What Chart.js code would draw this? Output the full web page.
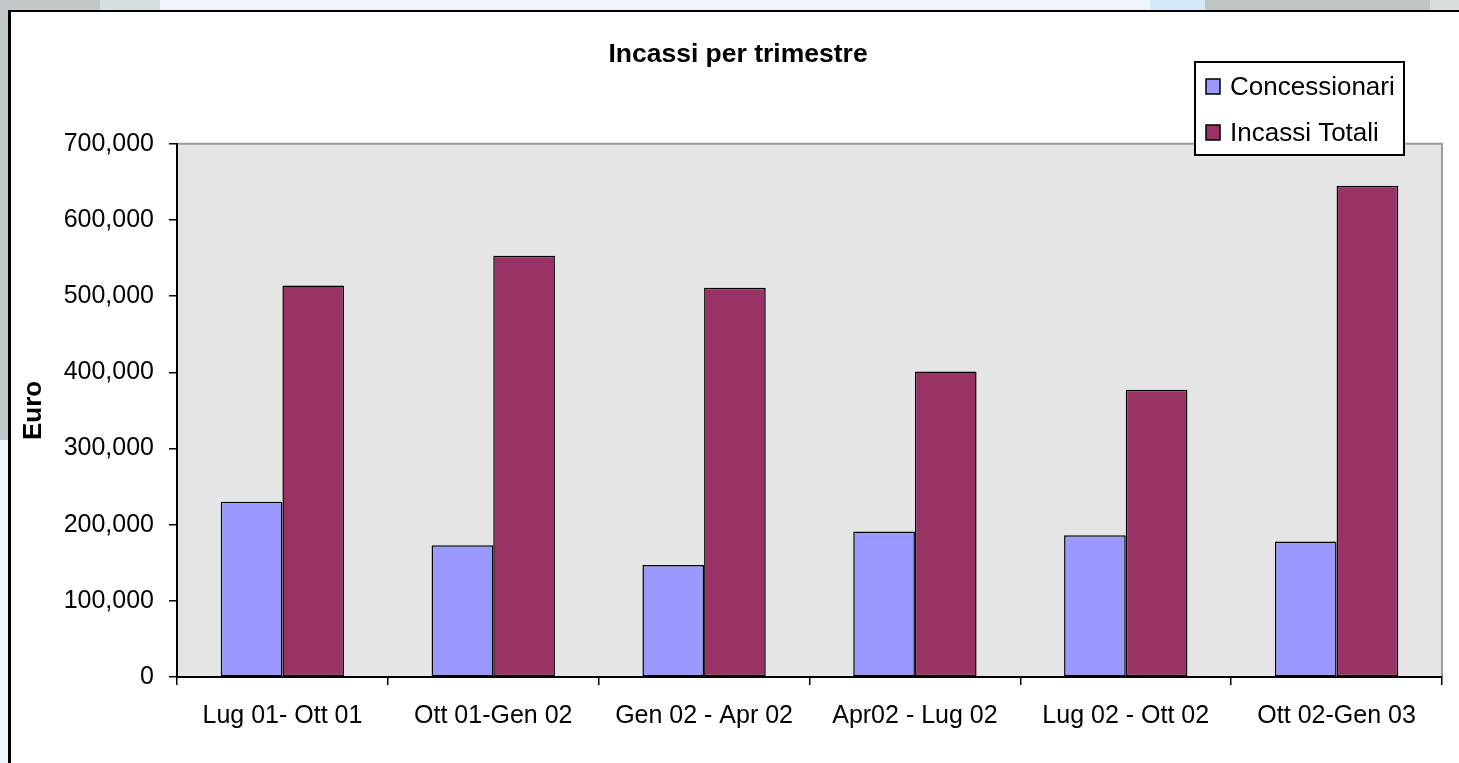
<!DOCTYPE html>
<html>
<head>
<meta charset="utf-8">
<script src="https://cdn.jsdelivr.net/npm/chart.js@4"></script>
<style>
  body { margin: 0; width: 1459px; height: 763px; overflow: hidden; position: relative; background: #eef4f9; }
  .bg1 { position: absolute; left: 0; top: 0; width: 105px; height: 440px; background: #c2c8c8; }
  .bg2 { position: absolute; left: 100px; top: 0; width: 60px; height: 10px; background: #d6dfdf; }
  .bg3 { position: absolute; left: 1150px; top: 0; width: 55px; height: 10px; background: #d4eaf8; }
  .bg4 { position: absolute; left: 1205px; top: 0; width: 225px; height: 10px; background: #c0c5c5; }
  .bg5 { position: absolute; left: 1430px; top: 0; width: 29px; height: 10px; background: #d8dede; }
  .frame { position: absolute; left: 8px; top: 10px; width: 1460px; height: 760px; background: #fff;
           border-left: 3px solid #000; border-top: 2px solid #000; }
  #chart { position: absolute; left: 0; top: 0; }
</style>
</head>
<body>
<div class="bg1"></div><div class="bg2"></div><div class="bg3"></div><div class="bg4"></div><div class="bg5"></div>
<div class="frame"></div>
<canvas id="chart" width="1459" height="763"></canvas>
<script>
// Data
const trimestri = ["Lug 01- Ott 01", "Ott 01-Gen 02", "Gen 02 - Apr 02", "Apr02 - Lug 02", "Lug 02 - Ott 02", "Ott 02-Gen 03"];
const concessionari = [230000, 173000, 147000, 191000, 186000, 178000];
const incassiTotali = [514000, 553000, 511000, 401000, 377000, 645000];
const seriesNames = ["Concessionari", "Incassi Totali"];
const yMax = 700000;
const yStep = 100000;

Chart.defaults.font.family = "'Liberation Sans', Arial, sans-serif";
Chart.defaults.color = '#000';

// grey plot area with thin grey frame
const plotBg = {
    id: 'plotBg',
    beforeDraw(chart) {
        const {ctx, chartArea: a} = chart;
        ctx.save();
        ctx.fillStyle = '#e5e5e5';
        ctx.fillRect(a.left, a.top, a.right - a.left, a.bottom - a.top);
        ctx.strokeStyle = '#9a9a9a';
        ctx.lineWidth = 2;
        ctx.beginPath();
        ctx.moveTo(a.left, a.top);
        ctx.lineTo(a.right, a.top);
        ctx.lineTo(a.right, a.bottom);
        ctx.stroke();
        ctx.restore();
    }
};

// Excel style boxed legend over the top right corner
const boxLegend = {
    id: 'boxLegend',
    afterDraw(chart) {
        const ctx = chart.ctx;
        const x = 1195, y = 62, w = 209, h = 93;
        ctx.save();
        ctx.fillStyle = '#fff';
        ctx.fillRect(x, y, w, h);
        ctx.strokeStyle = '#000';
        ctx.lineWidth = 2;
        ctx.strokeRect(x, y, w, h);
        ctx.font = "26px 'Liberation Sans', Arial, sans-serif";
        ctx.textBaseline = 'middle';
        chart.data.datasets.forEach((ds, i) => {
            const cy = y + 25 + i * 46;
            ctx.fillStyle = ds.backgroundColor;
            ctx.fillRect(x + 11, cy - 8, 14, 15);
            ctx.lineWidth = 1.5;
            ctx.strokeRect(x + 11, cy - 8, 14, 15);
            ctx.fillStyle = '#000';
            ctx.fillText(ds.label, x + 35, cy + 1);
        });
        ctx.restore();
    }
};

new Chart(document.getElementById('chart'), {
    type: 'bar',
    data: {
        labels: trimestri,
        datasets: [{
            label: seriesNames[0],
            data: concessionari,
            backgroundColor: '#9999ff',
            borderColor: '#000',
            borderWidth: 1.5,
            borderSkipped: false
        }, {
            label: seriesNames[1],
            data: incassiTotali,
            backgroundColor: '#993366',
            borderColor: '#000',
            borderWidth: 1.5,
            borderSkipped: false
        }]
    },
    options: {
        responsive: false,
        animation: false,
        devicePixelRatio: 1,
        categoryPercentage: 0.585,
        barPercentage: 1.0,
        layout: { padding: { left: 34, right: 17, top: 0, bottom: 0 } },
        scales: {
            x: {
                grid: { offset: true, drawOnChartArea: false, drawTicks: true, tickLength: 8, color: '#000', lineWidth: 1.5 },
                border: { color: '#000', width: 2 },
                ticks: { font: { size: 25 }, padding: 16, maxRotation: 0, autoSkip: false },
                afterFit(scale) { scale.height = 86; }
            },
            y: {
                min: 0,
                max: yMax,
                grid: { drawOnChartArea: false, drawTicks: true, tickLength: 8, color: '#000', lineWidth: 1.5 },
                border: { color: '#000', width: 2 },
                ticks: {
                    stepSize: yStep,
                    font: { size: 25 },
                    padding: 15,
                    callback: v => v.toLocaleString('en-US')
                },
                title: {
                    display: true,
                    text: 'Euro',
                    font: { size: 26, weight: 'bold' },
                    padding: { top: -16, bottom: 0 }
                },
                afterFit(scale) { scale.width = 143; }
            }
        },
        plugins: {
            legend: { display: false },
            tooltip: { enabled: false },
            title: {
                display: true,
                text: 'Incassi per trimestre',
                font: { size: 26.5, weight: 'bold' },
                padding: { top: 39, bottom: 73 }
            }
        }
    },
    plugins: [plotBg, boxLegend]
});
</script>
</body>
</html>
